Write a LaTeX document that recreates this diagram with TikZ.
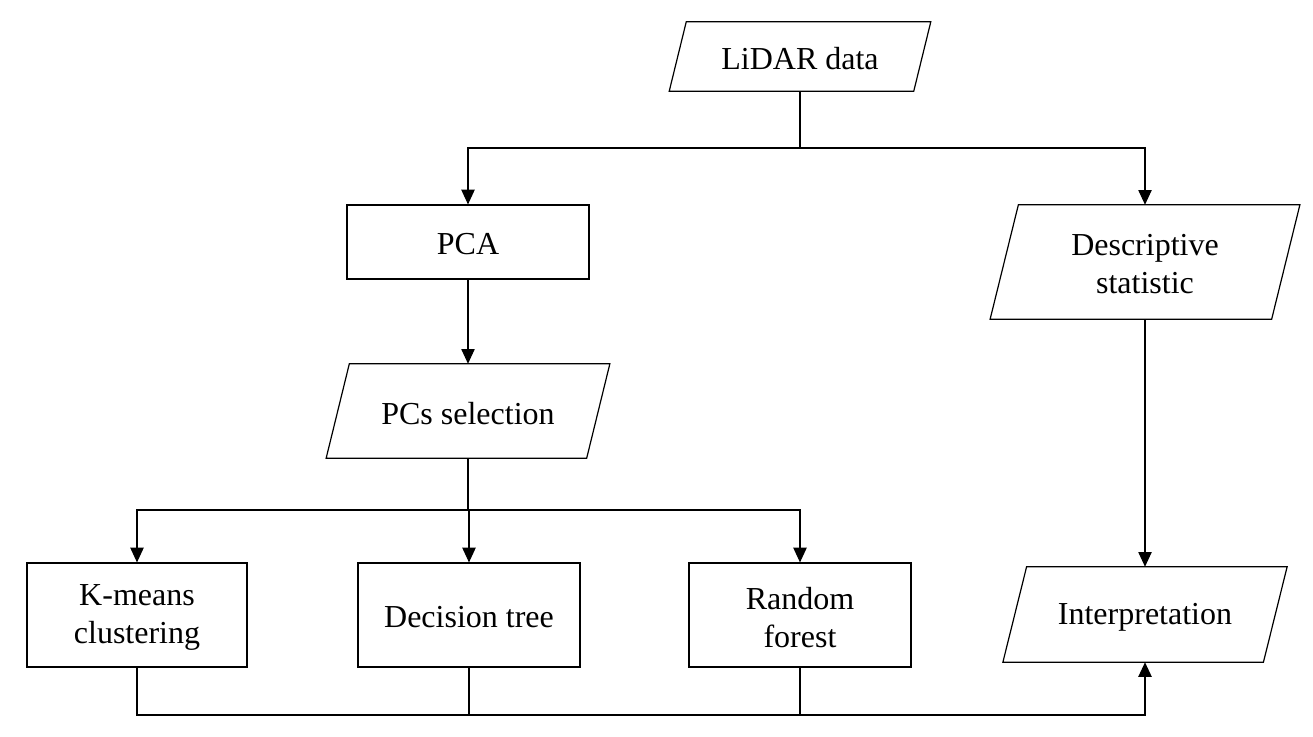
\documentclass[tikz,border=0pt]{standalone}
\usepackage{fontspec}
\setmainfont{Liberation Serif}
\usetikzlibrary{arrows.meta,calc}
\tikzset{
  boxline/.style={line width=0.9pt},
  conn/.style={line width=0.8pt},
  busline/.style={line width=1.2pt},
  arr/.style={conn,-{Triangle[length=11pt,width=10pt]}},
  arrb/.style={busline,-{Triangle[length=11pt,width=10pt]}},
  txt/.style={font=\fontsize{24}{28.5}\selectfont, align=center, inner sep=0pt, yshift=-1.8pt},
  rectbox/.style={draw, boxline, inner sep=0pt},
  parabox/.style={draw=none, inner sep=0pt},
}
\newcommand\drawpara[2]{%
  \draw[boxline] ([xshift=#2]#1.north west) -- ([xshift=#2]#1.north east)
    -- ([xshift=-#2]#1.south east) -- ([xshift=-#2]#1.south west) -- cycle;}
\begin{document}
\begin{tikzpicture}[x=0.75pt,y=-0.75pt]
\useasboundingbox (0,0) rectangle (1313,736);
% nodes
\node[parabox, minimum width=244*0.75pt, minimum height=69*0.75pt, label={[txt]center:LiDAR data}] (lidar) at (800,56.5) {};
\drawpara{lidar}{6.4pt}
\node[rectbox, minimum width=242*0.75pt, minimum height=74*0.75pt, label={[txt]center:PCA}] (pca) at (468,242) {};
\node[parabox, minimum width=281*0.75pt, minimum height=114*0.75pt, label={[txt]center:{Descriptive\\statistic}}] (desc) at (1145,262) {};
\drawpara{desc}{10.6pt}
\node[parabox, minimum width=260*0.75pt, minimum height=94*0.75pt, label={[txt]center:PCs selection}] (pcs) at (468,411) {};
\drawpara{pcs}{8.7pt}
\node[rectbox, minimum width=220*0.75pt, minimum height=104*0.75pt, label={[txt]center:{K-means\\clustering}}] (kmeans) at (137,615) {};
\node[rectbox, minimum width=222*0.75pt, minimum height=104*0.75pt, label={[txt]center:Decision tree}] (dtree) at (469,615) {};
\node[rectbox, minimum width=222*0.75pt, minimum height=104*0.75pt, label={[txt]center:{Random\\forest}}] (rforest) at (800,615) {};
\node[parabox, minimum width=260*0.75pt, minimum height=95*0.75pt, label={[txt]center:Interpretation}] (interp) at (1145,614.5) {};
\drawpara{interp}{8.9pt}
% connectors
\coordinate (b1) at (800,148);
\draw[conn] (lidar.south) -- (b1);
\draw[arr] (b1) -| (pca.north);
\draw[arr] (b1) -| (desc.north);
\draw[arr] (pca.south) -- (pcs.north);
\coordinate (b2) at (468,510);
\draw[conn] (pcs.south) -- (b2);
\draw[arr] (b2) -| (kmeans.north);
\draw[arr] (b2) -- (b2 -| dtree.north) -- (dtree.north);
\draw[arr] (b2) -| (rforest.north);
\draw[arr] (desc.south) -- (interp.north);
\coordinate (b3) at (1145,715);
\draw[arrb] (kmeans.south) |- (b3) -- (interp.south);
\draw[conn] (dtree.south) -- (dtree.south |- b3);
\draw[conn] (rforest.south) -- (rforest.south |- b3);
\end{tikzpicture}
\end{document}
